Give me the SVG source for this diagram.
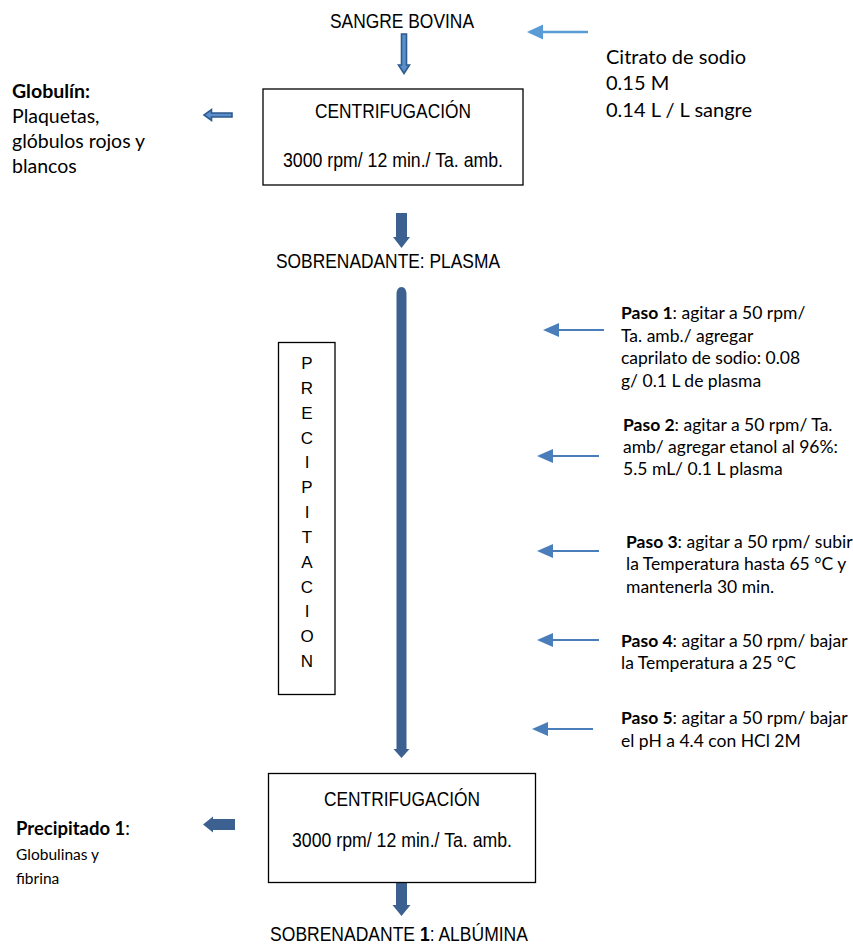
<svg xmlns="http://www.w3.org/2000/svg" width="853" height="949" viewBox="0 0 853 949">
<style>
.ar{font-family:"Liberation Sans",Arial,sans-serif;fill:#000;text-anchor:middle}
.cb{font-family:Lato,"Noto Sans",sans-serif;fill:#000}
.b{font-weight:bold}
.box{fill:#fff;stroke:#000;stroke-width:1.3}
.solid{fill:#3C6191;stroke:none}
.outl{fill:#5B8FCB;stroke:#2E5A8C;stroke-width:1.6}
.ln{stroke:#4A7EBB;stroke-width:2.2;fill:none}
.hd{fill:#4A7EBB}
.ln2{stroke:#5B9BD5;stroke-width:2.4;fill:none}
.hd2{fill:#5B9BD5}
</style>
<rect width="853" height="949" fill="#fff"/>

<g id="connectors">
  <path class="outl" d="M401.5,34 H406.5 V65 H409.5 L404,73.5 L398.5,65 H401.5 Z"/>
  <path class="outl" d="M232,113 V117 H211.5 V120.5 L204,115 L211.5,109.5 V113 Z"/>
  <path class="solid" d="M396,213 H407 V237 H410 L401.5,248 L393,237 H396 Z"/>
  <path class="solid" d="M396.5,295 Q396.5,287 401.5,287 Q406.5,287 406.5,295 V749 H409.5 L401.5,758 L393.5,749 H396.5 Z"/>
  <path class="solid" d="M235,819 V830 H213 V832.5 L203,824.5 L213,816.5 V819 Z"/>
  <path class="solid" d="M396,882 H407 V905 H410.5 L401.5,916 L392.5,905 H396 Z"/>
  <line class="ln2" x1="588" y1="32" x2="540" y2="32"/>
  <path class="hd2" d="M527,32 L543,24.5 L543,39.5 Z"/>
  <line class="ln" x1="604" y1="330" x2="556" y2="330"/>
  <path class="hd" d="M543,330 L559,323 L559,337 Z"/>
  <line class="ln" x1="599" y1="456" x2="550" y2="456"/>
  <path class="hd" d="M537,456 L553,449 L553,463 Z"/>
  <line class="ln" x1="599" y1="551" x2="550" y2="551"/>
  <path class="hd" d="M537,551 L553,544 L553,558 Z"/>
  <line class="ln" x1="599" y1="640" x2="550" y2="640"/>
  <path class="hd" d="M537,640 L553,633 L553,647 Z"/>
  <line class="ln" x1="593" y1="729" x2="545" y2="729"/>
  <path class="hd" d="M532,729 L548,722 L548,736 Z"/>
</g>

<g id="sangre">
  <text class="ar" x="402" y="28" font-size="21" textLength="144" lengthAdjust="spacingAndGlyphs">SANGRE BOVINA</text>
</g>

<g id="citrato">
  <text class="cb" font-size="20"><tspan x="606" y="64">Citrato de sodio</tspan><tspan x="606" y="90">0.15 M</tspan><tspan x="606" y="117">0.14 L / L sangre</tspan></text>
</g>

<g id="centrifugacion1">
  <rect class="box" x="263" y="89" width="260" height="96"/>
  <text class="ar" x="393" y="118" font-size="21" textLength="156" lengthAdjust="spacingAndGlyphs">CENTRIFUGACIÓN</text>
  <text class="ar" x="393" y="167" font-size="21" textLength="220" lengthAdjust="spacingAndGlyphs">3000 rpm/ 12 min./ Ta. amb.</text>
</g>

<g id="globulin">
  <text class="cb" font-size="19.5"><tspan x="12" y="98" class="b">Globulín:</tspan><tspan x="12" y="123">Plaquetas,</tspan><tspan x="12" y="148">glóbulos rojos y</tspan><tspan x="12" y="173">blancos</tspan></text>
</g>

<g id="plasma">
  <text class="ar" x="388" y="268" font-size="21" textLength="224" lengthAdjust="spacingAndGlyphs">SOBRENADANTE: PLASMA</text>
</g>

<g id="precipitacion">
  <rect class="box" x="278.5" y="342.5" width="56.5" height="352"/>
  <g class="ar" font-size="17">
    <text x="307" y="369">P</text>
    <text x="307" y="393.8">R</text>
    <text x="307" y="418.7">E</text>
    <text x="307" y="443.5">C</text>
    <text x="307" y="468.3">I</text>
    <text x="307" y="493.2">P</text>
    <text x="307" y="518">I</text>
    <text x="307" y="542.8">T</text>
    <text x="307" y="567.7">A</text>
    <text x="307" y="592.5">C</text>
    <text x="307" y="617.3">I</text>
    <text x="307" y="642.2">O</text>
    <text x="307" y="667">N</text>
  </g>
</g>

<g id="paso1">
  <text class="cb" font-size="17.5"><tspan x="621" y="319"><tspan class="b">Paso 1</tspan>: agitar a 50 rpm/</tspan><tspan x="621" y="341.5">Ta. amb./ agregar</tspan><tspan x="621" y="364">caprilato de sodio: 0.08</tspan><tspan x="621" y="386.5">g/ 0.1 L de plasma</tspan></text>
</g>
<g id="paso2">
  <text class="cb" font-size="17.5"><tspan x="623" y="430.5"><tspan class="b">Paso 2</tspan>: agitar a 50 rpm/ Ta.</tspan><tspan x="623" y="452.5">amb/ agregar etanol al 96%:</tspan><tspan x="623" y="474.5">5.5 mL/ 0.1 L plasma</tspan></text>
</g>
<g id="paso3">
  <text class="cb" font-size="17.5"><tspan x="626" y="547.5"><tspan class="b">Paso 3</tspan>: agitar a 50 rpm/ subir</tspan><tspan x="626" y="570">la Temperatura hasta 65 °C y</tspan><tspan x="626" y="592.5">mantenerla 30 min.</tspan></text>
</g>
<g id="paso4">
  <text class="cb" font-size="17.5"><tspan x="621" y="646.5"><tspan class="b">Paso 4</tspan>: agitar a 50 rpm/ bajar</tspan><tspan x="621" y="669">la Temperatura a 25 °C</tspan></text>
</g>
<g id="paso5">
  <text class="cb" font-size="17.5"><tspan x="621" y="724"><tspan class="b">Paso 5</tspan>: agitar a 50 rpm/ bajar</tspan><tspan x="621" y="746.5">el pH a 4.4 con HCl 2M</tspan></text>
</g>

<g id="centrifugacion2">
  <rect class="box" x="268.5" y="773.5" width="267" height="109"/>
  <text class="ar" x="402" y="806" font-size="21" textLength="156" lengthAdjust="spacingAndGlyphs">CENTRIFUGACIÓN</text>
  <text class="ar" x="402" y="847" font-size="21" textLength="220" lengthAdjust="spacingAndGlyphs">3000 rpm/ 12 min./ Ta. amb.</text>
</g>

<g id="precipitado1">
  <text class="cb"><tspan x="16" y="835" font-size="18.5"><tspan class="b">Precipitado 1</tspan>:</tspan><tspan x="16" y="860" font-size="15.5">Globulinas y</tspan><tspan x="16" y="884" font-size="15.5">fibrina</tspan></text>
</g>

<g id="albumina">
  <text class="ar" transform="translate(399,941) scale(0.834,1)" x="0" y="0" font-size="21">SOBRENADANTE <tspan class="b">1</tspan>: ALBÚMINA</text>
</g>
</svg>
